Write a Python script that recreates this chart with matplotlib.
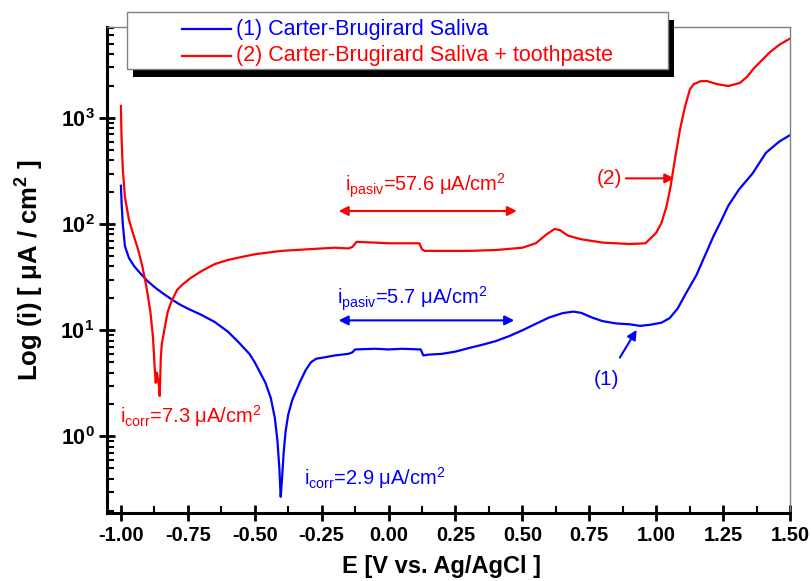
import numpy as np
import matplotlib
matplotlib.use('Agg')
import matplotlib.pyplot as plt
from matplotlib.patches import Rectangle
from matplotlib.lines import Line2D
from matplotlib.ticker import FixedLocator, NullFormatter

plt.rcParams['font.family'] = ['Liberation Sans', 'DejaVu Sans']
plt.rcParams['mathtext.fontset'] = 'custom'
plt.rcParams['mathtext.rm'] = 'Liberation Sans'
plt.rcParams['mathtext.it'] = 'Liberation Sans:italic'
plt.rcParams['mathtext.bf'] = 'Liberation Sans:bold'

# (1) saliva only - potential (V) and current density (uA/cm2)
saliva_E = [-1.000, -0.997, -0.993, -0.985, -0.970, -0.950, -0.930, -0.900, -0.870, -0.840,
            -0.810, -0.780, -0.750, -0.700, -0.650, -0.600, -0.560, -0.520, -0.500, -0.480,
            -0.460, -0.440, -0.425, -0.415, -0.408, -0.403, -0.398, -0.392, -0.385, -0.375,
            -0.360, -0.345, -0.330, -0.310, -0.290, -0.270, -0.250, -0.200, -0.150, -0.135,
            -0.125, -0.050, 0.000, 0.050, 0.120, 0.130, 0.150, 0.200, 0.250, 0.300,
            0.350, 0.400, 0.450, 0.500, 0.550, 0.600, 0.650, 0.690, 0.720, 0.760,
            0.800, 0.850, 0.900, 0.940, 0.980, 1.020, 1.050, 1.080, 1.110, 1.150,
            1.190, 1.215, 1.240, 1.270, 1.310, 1.360, 1.410, 1.460, 1.500]
saliva_i = [230, 150, 100, 62, 48, 40, 35, 29, 25, 22,
            19.5, 17.5, 16, 14, 12, 9.7, 7.7, 6.0, 5.0, 4.0,
            3.2, 2.3, 1.5, 0.9, 0.5, 0.27, 0.4, 0.7, 1.1, 1.6,
            2.2, 2.7, 3.3, 4.2, 5.0, 5.4, 5.5, 5.8, 6.0, 6.2,
            6.6, 6.7, 6.6, 6.7, 6.6, 5.8, 5.9, 6.0, 6.3, 6.8,
            7.3, 7.9, 8.8, 10.0, 11.5, 13.2, 14.5, 15.0, 14.6, 13.2,
            12.2, 11.6, 11.4, 11.0, 11.3, 11.8, 13.0, 16, 22, 33,
            56, 78, 104, 150, 213, 300, 470, 600, 690]

# (2) saliva + toothpaste
paste_E = [-1.000, -0.998, -0.993, -0.985, -0.970, -0.955, -0.936, -0.920, -0.905, -0.890,
           -0.880, -0.874, -0.870, -0.866, -0.862, -0.858, -0.855, -0.851, -0.847, -0.842,
           -0.835, -0.825, -0.810, -0.790, -0.770, -0.740, -0.700, -0.650, -0.600, -0.550,
           -0.500, -0.450, -0.400, -0.350, -0.300, -0.250, -0.200, -0.150, -0.135, -0.120,
           -0.050, 0.000, 0.050, 0.115, 0.125, 0.135, 0.200, 0.300, 0.400, 0.500,
           0.550, 0.590, 0.620, 0.640, 0.670, 0.720, 0.800, 0.900, 0.960, 1.000,
           1.020, 1.039, 1.054, 1.070, 1.089, 1.108, 1.126, 1.140, 1.165, 1.189,
           1.226, 1.269, 1.313, 1.340, 1.363, 1.390, 1.425, 1.460, 1.500]
paste_i = [1300, 700, 330, 180, 110, 82, 58, 40, 26, 15,
           8.5, 4.5, 3.2, 4.0, 3.5, 3.0, 2.4, 5.5, 7.5, 8.8,
           11, 15, 19, 24, 27, 31, 36, 42, 46, 49,
           52, 54, 56, 57, 58, 59, 60, 59, 61, 68,
           67, 66, 66, 66, 58, 56, 56, 56, 57, 60,
           66, 80, 90, 88, 78, 72, 67, 65, 66, 83,
           103, 148, 228, 408, 780, 1290, 1860, 2080, 2220, 2230,
           2090, 2000, 2140, 2450, 2900, 3400, 4170, 4900, 5600]

legend_labels = ['(1) Carter-Brugirard Saliva', '(2) Carter-Brugirard Saliva + toothpaste']
x_ticks = [-1.00, -0.75, -0.50, -0.25, 0.00, 0.25, 0.50, 0.75, 1.00, 1.25, 1.50]
y_ticks = [1, 10, 100, 1000]

W, H = 811, 581
fig = plt.figure(figsize=(W / 100, H / 100), dpi=100)
ax = fig.add_axes([107 / W, 1 - 513 / H, (790 - 107) / W, (513 - 27) / H])

ax.semilogy(saliva_E, saliva_i, color='blue', lw=1.6)
ax.semilogy(paste_E, paste_i, color='red', lw=1.6)

ax.set_xlim(-1.052, 1.5)
ax.set_ylim(0.19, 7200)

ax.set_xticks(x_ticks)
ax.set_xticklabels([f'{t:.2f}' for t in x_ticks])
ax.xaxis.set_minor_locator(FixedLocator(np.arange(-0.875, 1.5, 0.25)))
ax.set_yticks(y_ticks)
ax.set_yticklabels([r'$\mathbf{10^{%d}}$' % int(np.log10(t)) for t in y_ticks])
ax.yaxis.set_minor_formatter(NullFormatter())

for lab in ax.get_xticklabels():
    lab.set_fontweight('bold')
    lab.set_fontsize(14.5)
for lab in ax.get_yticklabels():
    lab.set_fontsize(15.5)

ax.tick_params(which='major', direction='inout', length=11, width=2, color='black')
ax.tick_params(which='minor', direction='in', length=5, width=1.5, color='black')
ax.tick_params(top=False, right=False, which='both')
ax.tick_params(axis='x', pad=4)

for side in ['left', 'bottom']:
    ax.spines[side].set_linewidth(2.2)
for side in ['top', 'right']:
    ax.spines[side].set_color('gray')
    ax.spines[side].set_linewidth(1)

ax.set_xlabel('E [V vs. Ag/AgCl ]', fontsize=17, fontweight='bold')
ax.xaxis.set_label_coords((442 - 107) / (790 - 107), -(566 - 513) / (513 - 27), transform=ax.transAxes)
ax.xaxis.label.set_va('center')
ax.set_ylabel('Log (i) [ μA / cm$\\mathbf{^2}$ ]', fontsize=18.5, fontweight='bold')
ax.yaxis.set_label_coords(-(107 - 30) / (790 - 107), 0.5, transform=ax.transAxes)
ax.yaxis.label.set_va('center')

# annotations
fs = 14.5
ax.text(-0.163, 204, r'i$_{\mathrm{pasiv}}$=57.6 μA/cm$^{2}$', color='red', fontsize=fs, va='baseline')
ax.annotate('', xy=(0.49, 133), xytext=(-0.197, 133),
            arrowprops=dict(arrowstyle='<|-|>', color='red', lw=1.5, mutation_scale=14))
ax.text(-0.192, 17.6, r'i$_{\mathrm{pasiv}}$=5.7 μA/cm$^{2}$', color='blue', fontsize=fs, va='baseline')
ax.annotate('', xy=(0.48, 12.4), xytext=(-0.197, 12.4),
            arrowprops=dict(arrowstyle='<|-|>', color='blue', lw=1.5, mutation_scale=14))
ax.text(-0.316, 0.352, r'i$_{\mathrm{corr}}$=2.9 μA/cm$^{2}$', color='blue', fontsize=fs, va='baseline')
ax.text(-1.004, 1.33, r'i$_{\mathrm{corr}}$=7.3 μA/cm$^{2}$', color='red', fontsize=fs, va='baseline')
ax.annotate('(2)', xy=(1.068, 270), xytext=(0.871, 270), color='red', fontsize=15,
            ha='right', va='center',
            arrowprops=dict(arrowstyle='-|>', color='red', lw=1.5, mutation_scale=14, shrinkA=1, shrinkB=0))
ax.annotate('(1)', xy=(0.927, 10.1), xytext=(0.815, 3.45), color='blue', fontsize=15,
            ha='center', va='center',
            arrowprops=dict(arrowstyle='-|>', color='blue', lw=1.5, mutation_scale=14, shrinkA=8, shrinkB=0))

# legend box with solid black shadow, drawn in figure pixels
def fx(x):
    return x / W

def fy(y):
    return 1 - y / H

fig.add_artist(Rectangle((fx(133), fy(77)), (668 - 127) / W, (69 - 12) / H,
                         transform=fig.transFigure, facecolor='black', edgecolor='none', zorder=10))
fig.add_artist(Rectangle((fx(127), fy(69)), (668 - 127) / W, (69 - 12) / H,
                         transform=fig.transFigure, facecolor='white', edgecolor='gray', lw=1, zorder=11))
for label, color, yy in zip(legend_labels, ['blue', 'red'], [29, 56]):
    fig.add_artist(Line2D([fx(182), fx(231)], [fy(yy), fy(yy)], color=color, lw=1.6,
                          transform=fig.transFigure, zorder=12))
    fig.text(fx(236), fy(yy), label, color=color, fontsize=15.5, va='center', zorder=12)

fig.savefig('out.png', dpi=100)
